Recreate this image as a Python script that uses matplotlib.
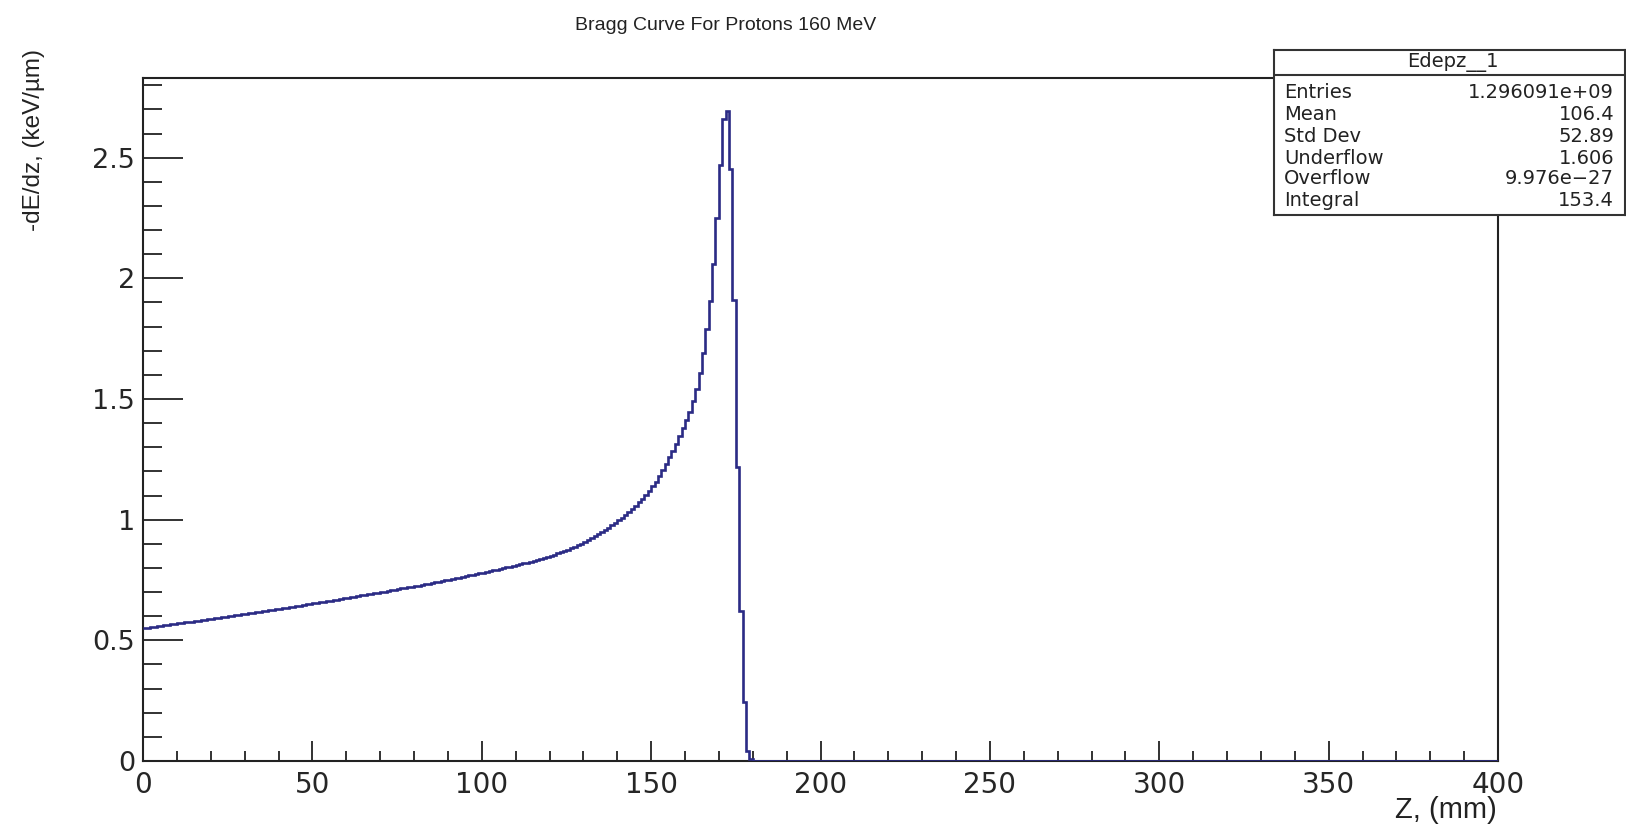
import numpy as np
import matplotlib
matplotlib.use("Agg")
import matplotlib.pyplot as plt
from matplotlib.ticker import MultipleLocator, FuncFormatter

plt.rcParams['font.family'] = ['Liberation Sans', 'DejaVu Sans']

# ---- data -------------------------------------------------------------
title = "Bragg Curve For Protons 160 MeV"
x_label = "Z, (mm)"
y_label = "-dE/dz, (keV/\u00b5m)"
hist_name = "Edepz__1"
x_min, x_max, n_bins = 0, 400, 400

# energy deposition per 1 mm bin, bins 0..179 (remaining bins are empty)
edep = [
    0.550, 0.552, 0.554, 0.556, 0.558, 0.560, 0.562, 0.564, 0.566, 0.568,
    0.570, 0.572, 0.574, 0.576, 0.578, 0.580, 0.582, 0.584, 0.586, 0.588,
    0.590, 0.592, 0.594, 0.596, 0.598, 0.600, 0.602, 0.604, 0.606, 0.608,
    0.610, 0.612, 0.614, 0.616, 0.618, 0.620, 0.622, 0.624, 0.627, 0.629,
    0.631, 0.633, 0.635, 0.638, 0.640, 0.642, 0.644, 0.647, 0.649, 0.651,
    0.653, 0.656, 0.658, 0.660, 0.662, 0.665, 0.667, 0.669, 0.672, 0.674,
    0.676, 0.679, 0.681, 0.683, 0.686, 0.688, 0.690, 0.693, 0.695, 0.698,
    0.700, 0.702, 0.705, 0.707, 0.710, 0.712, 0.715, 0.717, 0.720, 0.722,
    0.725, 0.727, 0.730, 0.733, 0.735, 0.738, 0.741, 0.743, 0.746, 0.749,
    0.752, 0.754, 0.757, 0.760, 0.763, 0.766, 0.769, 0.772, 0.775, 0.778,
    0.781, 0.784, 0.787, 0.790, 0.793, 0.796, 0.799, 0.802, 0.805, 0.808,
    0.812, 0.815, 0.819, 0.822, 0.826, 0.830, 0.834, 0.838, 0.842, 0.846,
    0.850, 0.855, 0.860, 0.865, 0.870, 0.875, 0.881, 0.887, 0.894, 0.901,
    0.908, 0.915, 0.923, 0.931, 0.939, 0.948, 0.957, 0.966, 0.976, 0.986,
    0.997, 1.008, 1.020, 1.032, 1.045, 1.058, 1.072, 1.086, 1.102, 1.119,
    1.138, 1.158, 1.180, 1.204, 1.230, 1.258, 1.286, 1.315, 1.346, 1.378,
    1.412, 1.448, 1.490, 1.540, 1.607, 1.690, 1.790, 1.905, 2.060, 2.250,
    2.470, 2.660, 2.695, 2.455, 1.910, 1.220, 0.620, 0.246, 0.040, 0.008,
]

stat_names = ["Entries", "Mean", "Std Dev", "Underflow", "Overflow", "Integral"]
stat_values = ["1.296091e+09", "106.4", "52.89", "1.606", "9.976e\u221227", "153.4"]

# ---- figure -----------------------------------------------------------
W, H = 1626, 830
fig = plt.figure(figsize=(W / 100, H / 100), dpi=100)

def fx(px):
    return px / W

def fy(py):
    return 1 - py / H

ax_l, ax_r, ax_t, ax_b = 143, 1498, 78, 761
ax = fig.add_axes([fx(ax_l), fy(ax_b), fx(ax_r - ax_l), (ax_b - ax_t) / H])

values = np.zeros(n_bins)
values[:len(edep)] = edep
edges = np.linspace(x_min, x_max, n_bins + 1)
ax.stairs(values, edges, color='#2b2b85', linewidth=1.9, baseline=None, zorder=3)

ax.set_xlim(x_min, x_max)
ax.set_ylim(0, 2.83)

ax.xaxis.set_major_locator(MultipleLocator(50))
ax.xaxis.set_minor_locator(MultipleLocator(10))
ax.yaxis.set_major_locator(MultipleLocator(0.5))
ax.yaxis.set_minor_locator(MultipleLocator(0.1))
fmt = FuncFormatter(lambda v, p: "%g" % round(v, 3))
ax.xaxis.set_major_formatter(fmt)
ax.yaxis.set_major_formatter(fmt)

spine_c = '#222222'
for s in ax.spines.values():
    s.set_color(spine_c)
    s.set_linewidth(1.5)

ax.tick_params(axis='both', which='both', direction='in', colors=spine_c,
               top=False, right=False, width=1.3, labelcolor='#262626')
ax.tick_params(axis='x', which='major', length=14.4, pad=7, labelsize=20)
ax.tick_params(axis='x', which='minor', length=7.2)
ax.tick_params(axis='y', which='major', length=28.8, pad=5.5, labelsize=19.5)
ax.tick_params(axis='y', which='minor', length=13.7)
for lab in ax.get_xticklabels() + ax.get_yticklabels():
    lab.set_fontfamily('DejaVu Sans')

fig.text(fx(726), fy(25), title, ha='center', va='center', fontsize=14,
         color='#222222')
fig.text(fx(34), fy(49), y_label, rotation=90, ha='center', va='top',
         fontsize=17.5, color='#222222')
fig.text(fx(1497), fy(796), x_label, ha='right', va='top', fontsize=21,
         color='#222222')

# ---- stats box ---------------------------------------------------------
bx_l, bx_r, bx_t, bx_b = 1274, 1625, 50, 215
sb = fig.add_axes([fx(bx_l), fy(bx_b), fx(bx_r - bx_l), (bx_b - bx_t) / H])
sb.set_zorder(10)
sb.set_facecolor('white')
sb.set_xticks([])
sb.set_yticks([])
for s in sb.spines.values():
    s.set_color('#333333')
    s.set_linewidth(1.5)
sb.set_xlim(0, 1)
sb.set_ylim(0, 1)
bh = bx_b - bx_t
sb.axhline((bx_b - 75) / bh, color='#333333', linewidth=1.5)
sb.text(0.51, (bx_b - 62) / bh, hist_name, ha='center', va='center',
        fontsize=14, color='#222222', family='DejaVu Sans')
row_y = [93, 114, 136, 158, 178, 200]
for name, val, yy in zip(stat_names, stat_values, row_y):
    fr = (bx_b - yy) / bh
    sb.text((1284 - bx_l) / (bx_r - bx_l), fr, name, ha='left', va='center',
            fontsize=14, color='#222222', family='DejaVu Sans')
    sb.text((1614 - bx_l) / (bx_r - bx_l), fr, val, ha='right', va='center',
            fontsize=14, color='#222222', family='DejaVu Sans')

fig.savefig("out.png", dpi=100)
